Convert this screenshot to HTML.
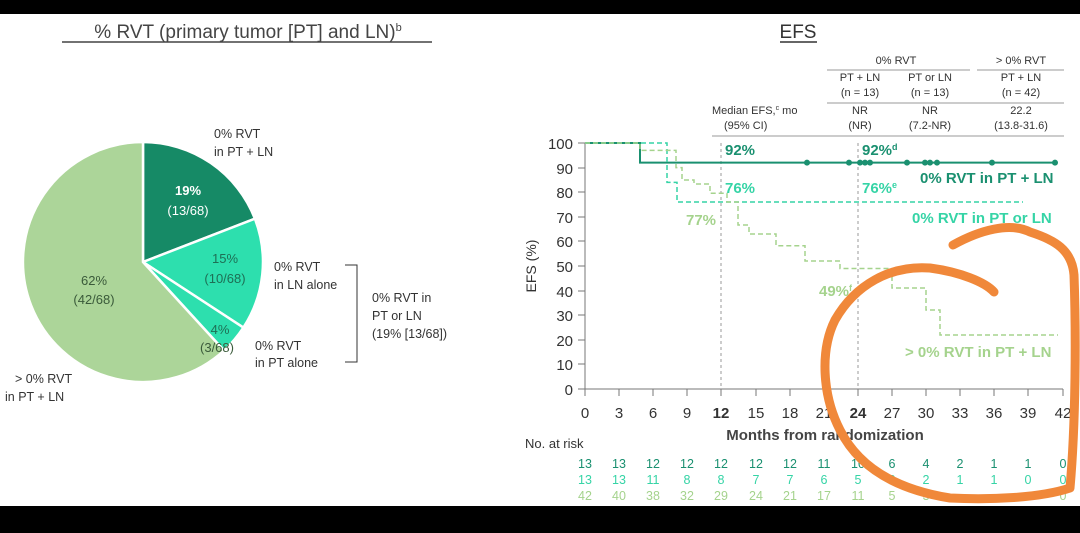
<!DOCTYPE html>
<html><head><meta charset="utf-8"><style>
html,body{margin:0;padding:0;background:#000;}
svg{display:block;font-family:"Liberation Sans","DejaVu Sans",sans-serif;}
</style></head><body>
<svg width="1080" height="533" viewBox="0 0 1080 533" xmlns="http://www.w3.org/2000/svg">
<rect x="0" y="14" width="1080" height="492" fill="#fff"/>
<!-- Left title -->
<text x="248" y="38" font-size="19" text-anchor="middle" fill="#444">% RVT (primary tumor [PT] and LN)<tspan font-size="11" dy="-7">b</tspan></text>
<line x1="62" y1="42" x2="432" y2="42" stroke="#444" stroke-width="1.5"/>
<!-- Pie center 143,262 r120 -->
<g stroke="#fff" stroke-width="2.5">
<path d="M143,262 L143,142 A120,120 0 0 1 254.9,218.7 Z" fill="#168a66"/>
<path d="M143,262 L254.9,218.7 A120,120 0 0 1 243.4,327.6 Z" fill="#2ddfae"/>
<path d="M143,262 L243.4,327.6 A120,120 0 0 1 224,350.5 Z" fill="#2ddfae"/>
<path d="M143,262 L224,350.5 A120,120 0 1 1 143,142 Z" fill="#acd599"/>
</g>
<g font-size="13" text-anchor="middle">
<text x="188" y="195" fill="#fff" font-weight="bold">19%</text>
<text x="188" y="215" fill="#fff">(13/68)</text>
<text x="225" y="263" fill="#1e6f55">15%</text>
<text x="225" y="283" fill="#1e6f55">(10/68)</text>
<text x="220" y="334" fill="#1e6f55">4%</text>
<text x="217" y="352" fill="#3a5a3a">(3/68)</text>
<text x="94" y="285" fill="#3a5a3a">62%</text>
<text x="94" y="304" fill="#3a5a3a">(42/68)</text>
</g>
<g font-size="12.5" fill="#333">
<text x="214" y="138">0% RVT</text><text x="214" y="156">in PT + LN</text>
<text x="274" y="271">0% RVT</text><text x="274" y="289">in LN alone</text>
<text x="255" y="350">0% RVT</text><text x="255" y="367">in PT alone</text>
<text x="372" y="302">0% RVT in</text><text x="372" y="320">PT or LN</text><text x="372" y="338">(19% [13/68])</text>
<text x="15" y="383">&gt; 0% RVT</text><text x="5" y="401">in PT + LN</text>
</g>
<path d="M345,265 H357 V362 H345" fill="none" stroke="#333" stroke-width="1"/>
<!-- Right title -->
<text x="798" y="38" font-size="19" text-anchor="middle" fill="#333">EFS</text>
<line x1="780" y1="42" x2="817" y2="42" stroke="#333" stroke-width="1.5"/>
<!-- table -->
<g font-size="11" fill="#333" text-anchor="middle">
<text x="896" y="64">0% RVT</text><text x="1021" y="64">&gt; 0% RVT</text>
<text x="860" y="81">PT + LN</text><text x="930" y="81">PT or LN</text><text x="1021" y="81">PT + LN</text>
<text x="860" y="96">(n = 13)</text><text x="930" y="96">(n = 13)</text><text x="1021" y="96">(n = 42)</text>
<text x="860" y="114">NR</text><text x="930" y="114">NR</text><text x="1021" y="114">22.2</text>
<text x="860" y="129">(NR)</text><text x="930" y="129">(7.2-NR)</text><text x="1021" y="129">(13.8-31.6)</text>
<text x="712" y="114" text-anchor="start">Median EFS,<tspan font-size="7" dy="-4">c</tspan><tspan dy="4"> mo</tspan></text>
<text x="724" y="129" text-anchor="start">(95% CI)</text>
</g>
<g stroke="#999" stroke-width="1">
<line x1="827" y1="70" x2="970" y2="70"/><line x1="977" y1="70" x2="1064" y2="70"/>
<line x1="827" y1="103" x2="1064" y2="103"/>
<line x1="712" y1="136" x2="1064" y2="136"/>
</g>
<!-- axes -->
<g stroke="#777" stroke-width="1" fill="none">
<line x1="585" y1="143" x2="585" y2="389"/>
<line x1="585" y1="389" x2="1063" y2="389"/>
</g>
<g font-size="15" fill="#333" text-anchor="end">
<text x="573" y="149">100</text><text x="573" y="174">90</text><text x="573" y="198">80</text><text x="573" y="223">70</text><text x="573" y="247">60</text><text x="573" y="272">50</text><text x="573" y="297">40</text><text x="573" y="321">30</text><text x="573" y="346">20</text><text x="573" y="370">10</text><text x="573" y="395">0</text>
</g>
<g stroke="#777"><line x1="578" y1="143" x2="585" y2="143"/><line x1="578" y1="168" x2="585" y2="168"/><line x1="578" y1="192" x2="585" y2="192"/><line x1="578" y1="217" x2="585" y2="217"/><line x1="578" y1="241" x2="585" y2="241"/><line x1="578" y1="266" x2="585" y2="266"/><line x1="578" y1="291" x2="585" y2="291"/><line x1="578" y1="315" x2="585" y2="315"/><line x1="578" y1="340" x2="585" y2="340"/><line x1="578" y1="364" x2="585" y2="364"/><line x1="578" y1="389" x2="585" y2="389"/>
<line x1="585" y1="389" x2="585" y2="396"/><line x1="619" y1="389" x2="619" y2="396"/><line x1="653" y1="389" x2="653" y2="396"/><line x1="687" y1="389" x2="687" y2="396"/><line x1="721" y1="389" x2="721" y2="396"/><line x1="756" y1="389" x2="756" y2="396"/><line x1="790" y1="389" x2="790" y2="396"/><line x1="824" y1="389" x2="824" y2="396"/><line x1="858" y1="389" x2="858" y2="396"/><line x1="892" y1="389" x2="892" y2="396"/><line x1="926" y1="389" x2="926" y2="396"/><line x1="960" y1="389" x2="960" y2="396"/><line x1="994" y1="389" x2="994" y2="396"/><line x1="1028" y1="389" x2="1028" y2="396"/><line x1="1063" y1="389" x2="1063" y2="396"/></g>
<g font-size="15" fill="#333" text-anchor="middle">
<text x="585" y="418">0</text><text x="619" y="418">3</text><text x="653" y="418">6</text><text x="687" y="418">9</text><text x="721" y="418" font-weight="bold">12</text><text x="756" y="418">15</text><text x="790" y="418">18</text><text x="824" y="418">21</text><text x="858" y="418" font-weight="bold">24</text><text x="892" y="418">27</text><text x="926" y="418">30</text><text x="960" y="418">33</text><text x="994" y="418">36</text><text x="1028" y="418">39</text><text x="1063" y="418">42</text>
<text x="825" y="440" font-weight="bold" fill="#444">Months from randomization</text>
</g>
<text x="536" y="266" font-size="14" fill="#333" text-anchor="middle" transform="rotate(-90 536 266)">EFS (%)</text>
<line x1="721" y1="143" x2="721" y2="389" stroke="#999" stroke-dasharray="3,3"/>
<line x1="858" y1="143" x2="858" y2="389" stroke="#999" stroke-dasharray="3,3"/>
<!-- curves -->
<path d="M585,143 H640 V162.6 H1057" fill="none" stroke="#1a9070" stroke-width="2"/>
<g fill="#1a9070"><circle cx="807" cy="162.6" r="3"/><circle cx="849" cy="162.6" r="3"/><circle cx="860" cy="162.6" r="3"/><circle cx="865" cy="162.6" r="3"/><circle cx="870" cy="162.6" r="3"/><circle cx="907" cy="162.6" r="3"/><circle cx="925" cy="162.6" r="3"/><circle cx="930" cy="162.6" r="3"/><circle cx="937" cy="162.6" r="3"/><circle cx="992" cy="162.6" r="3"/><circle cx="1055" cy="162.6" r="3"/></g>
<path d="M585,143 H667 V182.4 H677 V202 H1023" fill="none" stroke="#35d4a6" stroke-width="1.5" stroke-dasharray="5,3"/>
<path d="M585,143 H640 V150.4 H676 V167.6 H682 V180 H694 V184 H710 V193.3 H727 V202 H738 V225 H749 V234 H776 V245.7 H805 V261 H840 V268.5 H892 V288 H926 V310 H940 V335 H1058" fill="none" stroke="#a5d38d" stroke-width="1.5" stroke-dasharray="5,3"/>
<!-- labels in chart -->
<g font-size="15" font-weight="bold">
<text x="725" y="155" fill="#1a9070">92%</text>
<text x="862" y="155" fill="#1a9070">92%<tspan font-size="9" dy="-5">d</tspan></text>
<text x="920" y="183" fill="#1a9070">0% RVT in PT + LN</text>
<text x="725" y="193" fill="#35d4a6">76%</text>
<text x="862" y="193" fill="#35d4a6">76%<tspan font-size="9" dy="-5">e</tspan></text>
<text x="912" y="223" fill="#35d4a6">0% RVT in PT or LN</text>
<text x="686" y="225" fill="#a5d38d">77%</text>
<text x="819" y="296" fill="#a5d38d">49%<tspan font-size="9" dy="-5">f</tspan></text>
<text x="905" y="357" fill="#a5d38d">&gt; 0% RVT in PT + LN</text>
</g>
<!-- risk table -->
<text x="525" y="448" font-size="13" fill="#333">No. at risk</text>
<g font-size="12.5" text-anchor="middle">
<g fill="#1a9070"><text x="585" y="468">13</text><text x="619" y="468">13</text><text x="653" y="468">12</text><text x="687" y="468">12</text><text x="721" y="468">12</text><text x="756" y="468">12</text><text x="790" y="468">12</text><text x="824" y="468">11</text><text x="858" y="468">10</text><text x="892" y="468">6</text><text x="926" y="468">4</text><text x="960" y="468">2</text><text x="994" y="468">1</text><text x="1028" y="468">1</text><text x="1063" y="468">0</text></g>
<g fill="#35d4a6"><text x="585" y="484">13</text><text x="619" y="484">13</text><text x="653" y="484">11</text><text x="687" y="484">8</text><text x="721" y="484">8</text><text x="756" y="484">7</text><text x="790" y="484">7</text><text x="824" y="484">6</text><text x="858" y="484">5</text><text x="892" y="484">3</text><text x="926" y="484">2</text><text x="960" y="484">1</text><text x="994" y="484">1</text><text x="1028" y="484">0</text><text x="1063" y="484">0</text></g>
<g fill="#a5d38d"><text x="585" y="500">42</text><text x="619" y="500">40</text><text x="653" y="500">38</text><text x="687" y="500">32</text><text x="721" y="500">29</text><text x="756" y="500">24</text><text x="790" y="500">21</text><text x="824" y="500">17</text><text x="858" y="500">11</text><text x="892" y="500">5</text><text x="926" y="500">3</text><text x="1063" y="500">0</text></g>
</g>
<!-- orange annotation -->
<path d="M953,245 C980,230 1010,222 1030,232 C1055,240 1072,250 1074,275 C1076,330 1076,420 1070,488 C1040,498 990,500 950,498 C900,490 860,470 840,430 C822,395 820,350 835,320 C855,285 890,265 930,268 C960,272 985,282 994,292" fill="none" stroke="#f0883a" stroke-width="9" stroke-linecap="round" stroke-linejoin="round"/>
</svg>
</body></html>
